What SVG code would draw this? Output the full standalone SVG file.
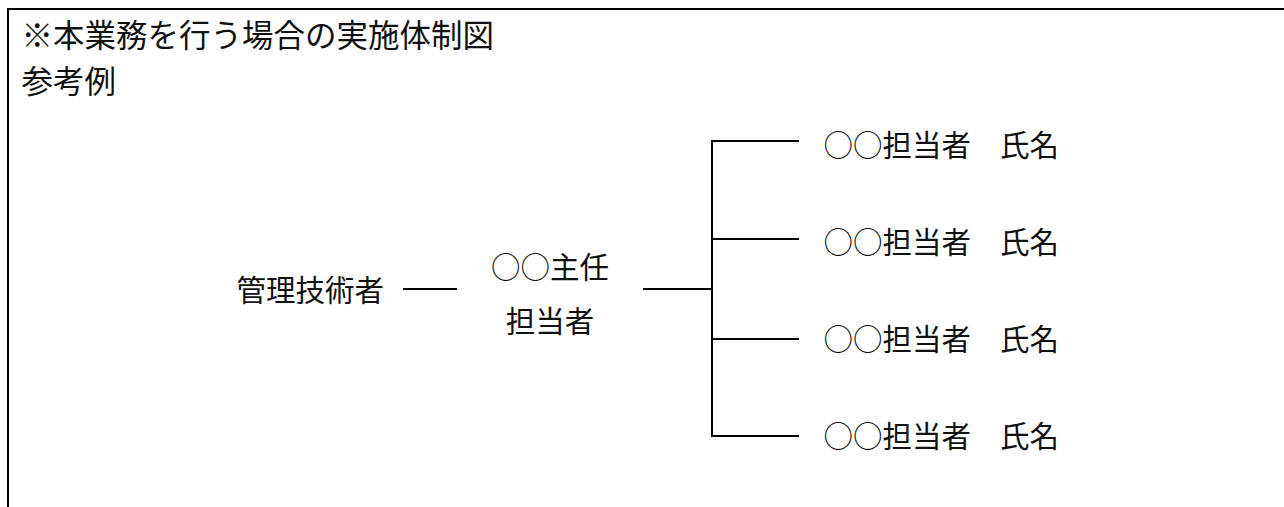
<svg xmlns="http://www.w3.org/2000/svg" width="1284" height="507" viewBox="0 0 1284 507">
<style>
.t{font-family:"Noto Sans CJK JP","Noto Sans CJK SC",sans-serif;fill:#111;}
.title{font-size:31.5px;}
.n{font-size:29.5px;}
.ln{stroke:#000;stroke-width:2;fill:none;}
</style>
<rect width="1284" height="507" fill="#fff"/>
<g id="frame">
<path class="ln" d="M8 507 V9 H1284"/>
</g>
<g id="title">
<text class="t title" x="21.5" y="47">※本業務を行う場合の実施体制図</text>
<text class="t title" x="21.5" y="93">参考例</text>
</g>
<g id="connectors">
<line class="ln" x1="403" y1="289" x2="457" y2="289"/>
<line class="ln" x1="643" y1="289" x2="712" y2="289"/>
<line class="ln" x1="712" y1="140" x2="712" y2="437"/>
<line class="ln" x1="711" y1="141" x2="799" y2="141"/>
<line class="ln" x1="711" y1="239" x2="799" y2="239"/>
<line class="ln" x1="711" y1="339" x2="799" y2="339"/>
<line class="ln" x1="711" y1="436" x2="799" y2="436"/>
</g>
<g id="node-manager">
<text class="t n" x="236.5" y="301">管理技術者</text>
</g>
<g id="node-chief">
<text class="t n" x="550" y="278" text-anchor="middle">○○主任</text>
<text class="t n" x="550" y="332" text-anchor="middle">担当者</text>
</g>
<g id="node-staff1">
<text class="t n" x="823.5" y="156">○○担当者<tspan x="970">　</tspan><tspan x="1000">氏名</tspan></text>
</g>
<g id="node-staff2">
<text class="t n" x="823.5" y="253">○○担当者<tspan x="970">　</tspan><tspan x="1000">氏名</tspan></text>
</g>
<g id="node-staff3">
<text class="t n" x="823.5" y="350">○○担当者<tspan x="970">　</tspan><tspan x="1000">氏名</tspan></text>
</g>
<g id="node-staff4">
<text class="t n" x="823.5" y="447">○○担当者<tspan x="970">　</tspan><tspan x="1000">氏名</tspan></text>
</g>
</svg>
